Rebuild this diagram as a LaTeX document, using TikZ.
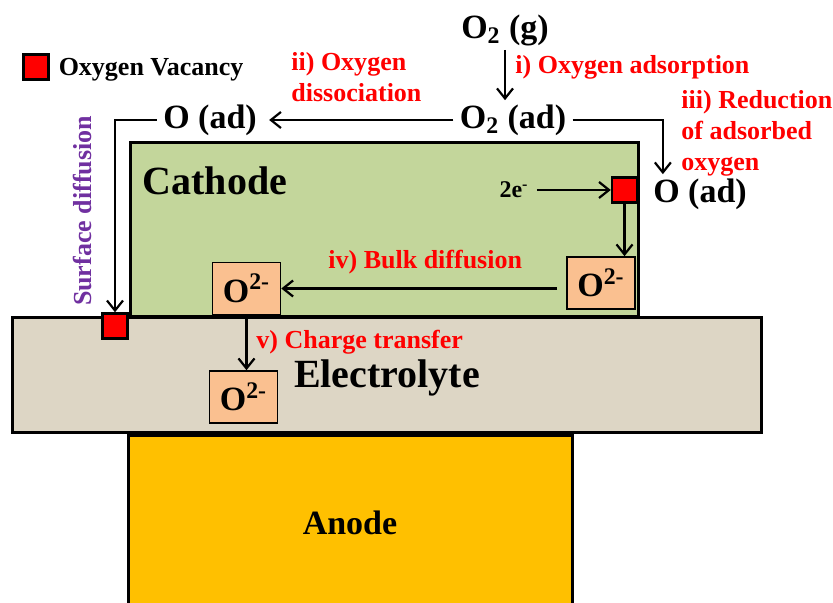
\documentclass[tikz,border=0pt]{standalone}
\usepackage{fontspec}
\setmainfont{Liberation Serif}
\usepackage{tikz}
\usetikzlibrary{arrows.meta, positioning, calc}
\definecolor{cathodegreen}{RGB}{195, 214, 155}
\definecolor{electrolytebeige}{RGB}{221, 214, 197}
\definecolor{ionpeach}{RGB}{250, 192, 144}
\definecolor{anodeyellow}{RGB}{255, 192, 0}
\definecolor{diffpurple}{RGB}{112, 48, 160}

\begin{document}
\begin{tikzpicture}[
  x=0.5pt, y=-0.5pt,
  every node/.style={font=\bfseries},
  layer/.style={draw=black, line width=1.5pt, inner sep=0pt},
  vacancy/.style={draw=black, line width=1.2pt, fill=red, minimum size=12.5pt, inner sep=0pt},
  ion/.style={
    draw=black, line width=0.8pt, fill=ionpeach,
    minimum width=34pt, minimum height=26pt, inner sep=0pt,
    font=\bfseries\fontsize{17}{17}\selectfont
  },
  species/.style={font=\bfseries\fontsize{17}{20}\selectfont, inner xsep=3pt, inner ysep=2pt},
  material/.style={font=\bfseries\fontsize{20}{24}\selectfont},
  steplabel/.style={text=red, font=\bfseries\fontsize{13}{15.5}\selectfont, align=left, inner sep=0pt},
  arrow/.style={-{Straight Barb[length=5pt, width=8pt]}, line width=1.1pt}
]
  \clip (0,0) rectangle (833,603);

  % Schichten der Zelle
  \node[layer, fill=anodeyellow, minimum width=222pt, minimum height=90pt] (anode) at (350,525) {};
  \node[layer, fill=electrolytebeige, minimum width=374.5pt, minimum height=57pt] (electrolyte) at (386.5,375) {};
  \node[layer, fill=cathodegreen, minimum width=254pt, minimum height=87pt] (cathode) at (384,230) {};

  \node[material] (cathodetxt) at (215,181) {Cathode};
  \node[material] (electrolytetxt) at (387,378) {Electrolyte};
  \node[font=\bfseries\fontsize{17}{20}\selectfont] (anodetxt) at (350,523) {Anode};

  % Legende
  \node[vacancy] (legend) at (36,67) {};
  \node[font=\bfseries\fontsize{13}{15}\selectfont, right=1pt of legend, yshift=-1.5pt] (legendtxt) {Oxygen Vacancy};

  % Spezies
  \node[species] (o2gas) at (505,30) {O\textsubscript{2} (g)};
  \node[species] (o2ad) at (513,120) {O\textsubscript{2} (ad)};
  \node[species] (oadleft) at (210,120) {O (ad)};
  \node[species] (oadright) at (700,194) {O (ad)};
  \node[font=\bfseries\fontsize{12}{14}\selectfont, inner sep=1pt] (electron) at (514,190) {2e\textsuperscript{-}};

  % Leerstellen und Ionen
  \node[vacancy] (vacright) at (624.5,190) {};
  \node[vacancy] (vacleft) at (115,326) {};
  \node[ion] (ionright) at (601,283) {O\textsuperscript{2-}};
  \node[ion] (ionleft) at (246.5,288.5) {O\textsuperscript{2-}};
  \node[ion] (ionelec) at (243.5,397) {O\textsuperscript{2-}};

  % Teilschritte
  \node[steplabel, anchor=west] (adsorption) at (515,67) {i) Oxygen adsorption};
  \node[steplabel, anchor=north west] (dissociation) at (291,52) {ii) Oxygen\\dissociation};
  \node[steplabel, anchor=north west] (reduction) at (681,90) {iii) Reduction\\of adsorbed\\oxygen};
  \node[steplabel, anchor=west] (bulk) at (328,262) {iv) Bulk diffusion};
  \node[steplabel, anchor=west] (transfer) at (256,342) {v) Charge transfer};
  \node[text=diffpurple, font=\bfseries\fontsize{13}{15}\selectfont, rotate=90] (surface) at (83,211) {Surface diffusion};

  % Pfeile
  \draw[arrow] (o2gas.south) -- (o2gas.south |- o2ad.north);
  \draw[arrow, shorten >=3pt] (o2ad.west) -- (oadleft.east);
  \draw[arrow] (oadleft.west) -| (vacleft.north);
  \draw[arrow] (o2ad.east) -| ([xshift=8pt]oadright.north west);
  \draw[arrow, shorten <=3pt] (electron.east) -- (vacright.west);
  \draw[arrow] (vacright.south) -- (vacright.south |- ionright.north);
  \draw[arrow, shorten <=4.5pt] (ionright.west |- ionleft.east) -- (ionleft.east);
  \draw[arrow] (ionleft.south) -- (ionleft.south |- ionelec.north);
\end{tikzpicture}
\end{document}
